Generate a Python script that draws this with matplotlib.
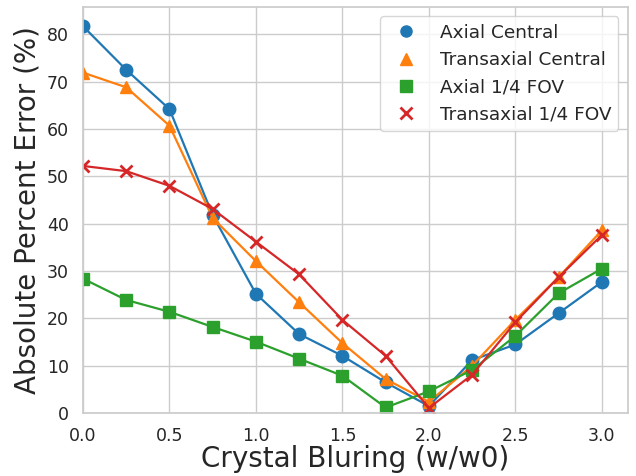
import numpy as np
import matplotlib
matplotlib.use('Agg')
import matplotlib.pyplot as plt
import seaborn as sns
from matplotlib.lines import Line2D

sns.set_theme(style="whitegrid")

blur = [0.0, 0.25, 0.5, 0.75, 1.0, 1.25, 1.5, 1.75, 2.0, 2.25, 2.5, 2.75, 3.0]
axial_central = [81.7, 72.5, 64.2, 41.8, 25.2, 16.7, 12.1, 6.5, 1.5, 11.2, 14.5, 21.1, 27.7]
trans_central = [71.9, 68.8, 60.7, 41.2, 32.1, 23.4, 14.8, 7.2, 2.4, 10.0, 19.7, 28.7, 38.6]
axial_quarter = [28.4, 23.9, 21.4, 18.2, 15.1, 11.5, 7.9, 1.2, 4.6, 9.1, 16.3, 25.3, 30.5]
trans_quarter = [52.2, 51.1, 48.0, 43.1, 36.2, 29.3, 19.7, 12.1, 1.1, 8.1, 19.2, 28.7, 37.6]

series = [
    ("Axial Central", axial_central, "o", "#1f77b4"),
    ("Transaxial Central", trans_central, "^", "#ff7f0e"),
    ("Axial 1/4 FOV", axial_quarter, "s", "#2ca02c"),
    ("Transaxial 1/4 FOV", trans_quarter, "x", "#d62728"),
]

fig = plt.figure(figsize=(6.36, 4.76), dpi=100)
ax = fig.add_axes([0.1305, 0.132, 0.8565, 0.853])

handles = []
for name, vals, mk, col in series:
    ax.plot(blur, vals, color=col, lw=1.6, marker=mk, ms=9,
            mew=2 if mk == "x" else 1)
    handles.append(Line2D([], [], ls="none", marker=mk, color=col, ms=8,
                          mew=2 if mk == "x" else 1, label=name))

ax.set_xlim(left=0)
ax.set_ylim(bottom=0)
ax.set_xlabel("Crystal Bluring (w/w0)", fontsize=20, color="#262626", labelpad=0)
ax.set_ylabel("Absolute Percent Error (%)", fontsize=20, color="#262626")
ax.tick_params(labelsize=12.5, pad=4)
ax.legend(handles=handles, loc="upper right", fontsize=13.3)

fig.savefig("out.png", dpi=100)
